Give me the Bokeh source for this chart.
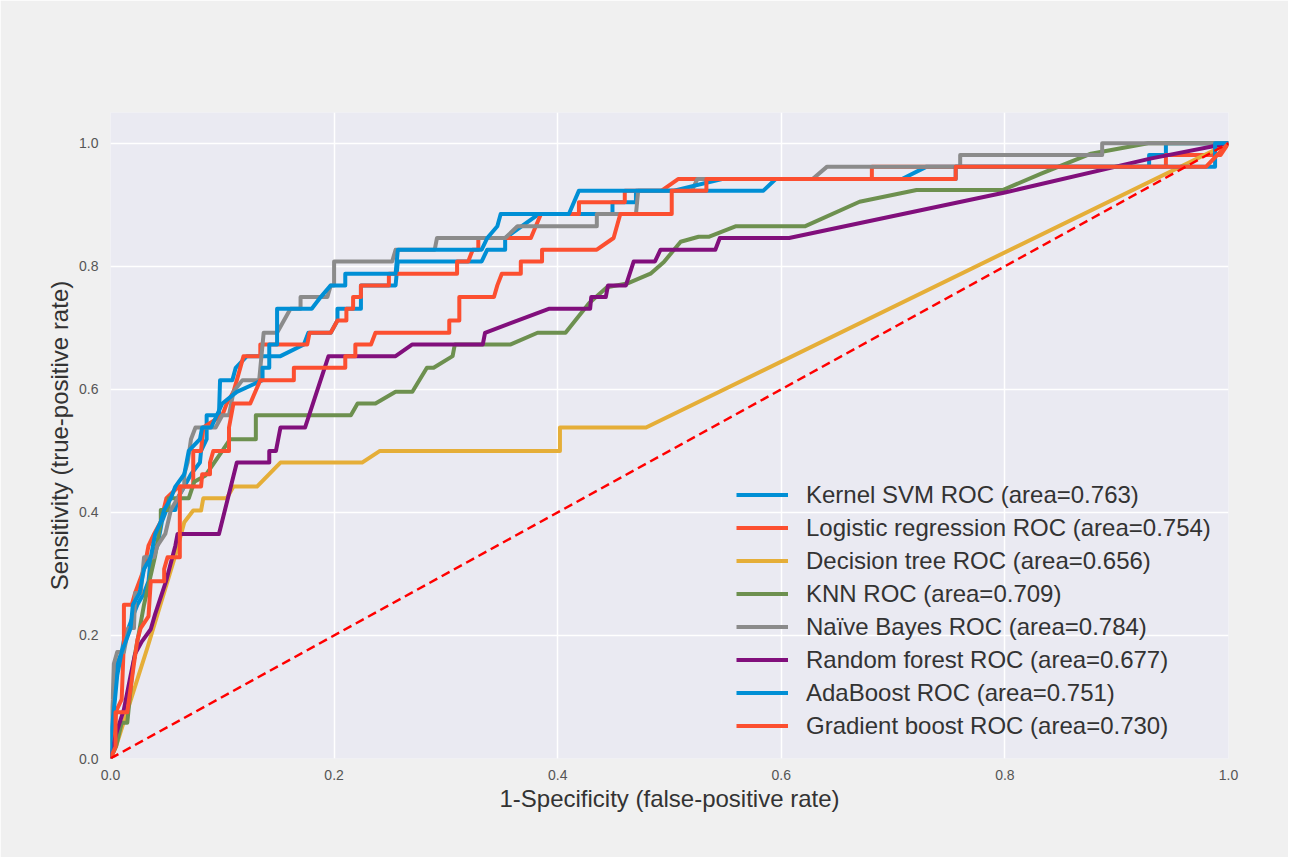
from bokeh.plotting import figure
from bokeh.models import Range1d, FixedTicker, PrintfTickFormatter, Legend, LegendItem, ColumnDataSource
from bokeh.embed import file_html
from bokeh.resources import INLINE

# ---- data ----
labels = [
    "Kernel SVM ROC (area=0.763)",
    "Logistic regression ROC (area=0.754)",
    "Decision tree ROC (area=0.656)",
    "KNN ROC (area=0.709)",
    "Naïve Bayes ROC (area=0.784)",
    "Random forest ROC (area=0.677)",
    "AdaBoost ROC (area=0.751)",
    "Gradient boost ROC (area=0.730)",
]
colors = ["#008fd5", "#fc4f30", "#e5ae38", "#6d904f", "#8b8b8b", "#810f7c", "#008fd5", "#fc4f30"]

svm_fpr = [0, 0, 0.002, 0.004, 0.006, 0.010, 0.012, 0.016, 0.020, 0.024, 0.030, 0.034, 0.036, 0.042, 0.046,
           0.050, 0.058, 0.060, 0.066, 0.072, 0.080, 0.081, 0.086, 0.086, 0.097, 0.098, 0.109, 0.112, 0.122,
           0.152, 0.173, 0.177, 0.197, 0.203, 0.203, 0.224, 0.224, 0.255, 0.257, 0.332, 0.337, 0.353, 0.353,
           0.383, 0.449, 0.449, 0.470, 0.470, 0.584, 0.595, 0.708, 0.730, 0.929, 0.929, 0.944, 0.944, 1.0]
svm_tpr = [0, 0.019, 0.058, 0.115, 0.154, 0.173, 0.192, 0.212, 0.231, 0.250, 0.269, 0.288, 0.327, 0.346, 0.385,
           0.404, 0.404, 0.423, 0.442, 0.462, 0.481, 0.500, 0.519, 0.558, 0.558, 0.615, 0.615, 0.635, 0.654,
           0.654, 0.673, 0.692, 0.692, 0.712, 0.731, 0.731, 0.769, 0.769, 0.808, 0.808, 0.827, 0.827, 0.846,
           0.885, 0.885, 0.904, 0.904, 0.923, 0.923, 0.942, 0.942, 0.962, 0.962, 0.981, 0.981, 1.0, 1.0]

lr_fpr = [0, 0.003, 0.005, 0.010, 0.012, 0.012, 0.019, 0.022, 0.030, 0.034, 0.039, 0.045, 0.050, 0.061, 0.074,
          0.074, 0.081, 0.083, 0.100, 0.104, 0.110, 0.113, 0.119, 0.134, 0.134, 0.176, 0.178, 0.197, 0.203,
          0.211, 0.211, 0.217, 0.217, 0.224, 0.224, 0.249, 0.249, 0.310, 0.310, 0.320, 0.324, 0.329, 0.329,
          0.376, 0.385, 0.419, 0.419, 0.460, 0.460, 0.493, 0.508, 0.681, 0.681, 0.944, 0.944, 0.993, 1.0]
lr_tpr = [0, 0.019, 0.077, 0.096, 0.192, 0.250, 0.250, 0.269, 0.308, 0.346, 0.365, 0.385, 0.423, 0.442, 0.442,
          0.500, 0.500, 0.538, 0.558, 0.577, 0.596, 0.615, 0.654, 0.654, 0.673, 0.673, 0.692, 0.692, 0.712,
          0.712, 0.731, 0.731, 0.750, 0.750, 0.769, 0.769, 0.788, 0.788, 0.808, 0.808, 0.827, 0.827, 0.846,
          0.846, 0.885, 0.885, 0.904, 0.904, 0.923, 0.923, 0.942, 0.942, 0.962, 0.962, 0.981, 0.981, 1.0]

dt_fpr = [0, 0.005, 0.033, 0.058, 0.066, 0.074, 0.081, 0.083, 0.104, 0.110, 0.131, 0.152, 0.225, 0.241,
          0.402, 0.402, 0.479, 1.0]
dt_tpr = [0, 0.02, 0.18, 0.33, 0.384, 0.403, 0.403, 0.423, 0.423, 0.442, 0.442, 0.481, 0.481, 0.500,
          0.500, 0.538, 0.538, 1.0]

knn_fpr = [0, 0.005, 0.010, 0.015, 0.020, 0.030, 0.040, 0.045, 0.045, 0.052, 0.052, 0.060, 0.070, 0.075,
           0.085, 0.100, 0.107, 0.130, 0.130, 0.215, 0.221, 0.237, 0.255, 0.270, 0.283, 0.289, 0.306, 0.308,
           0.358, 0.382, 0.407, 0.428, 0.444, 0.462, 0.483, 0.495, 0.510, 0.526, 0.535, 0.559, 0.621, 0.670,
           0.721, 0.798, 0.833, 0.877, 0.928, 1.0]
knn_tpr = [0, 0.02, 0.058, 0.058, 0.15, 0.25, 0.33, 0.385, 0.404, 0.404, 0.423, 0.423, 0.423, 0.45,
           0.46, 0.5, 0.519, 0.519, 0.558, 0.558, 0.577, 0.577, 0.596, 0.596, 0.635, 0.635, 0.654, 0.673,
           0.673, 0.692, 0.692, 0.740, 0.766, 0.772, 0.788, 0.807, 0.840, 0.848, 0.848, 0.865, 0.865, 0.905,
           0.924, 0.924, 0.951, 0.983, 1.0, 1.0]

nb_fpr = [0, 0, 0.002, 0.003, 0.006, 0.012, 0.016, 0.021, 0.022, 0.027, 0.030, 0.039, 0.042, 0.049, 0.054,
          0.060, 0.066, 0.066, 0.069, 0.072, 0.076, 0.094, 0.100, 0.106, 0.110, 0.118, 0.133, 0.137, 0.149,
          0.161, 0.170, 0.170, 0.194, 0.197, 0.200, 0.200, 0.252, 0.255, 0.290, 0.292, 0.353, 0.364, 0.435,
          0.435, 0.470, 0.472, 0.520, 0.525, 0.628, 0.641, 0.760, 0.760, 0.887, 0.887, 1.0]
nb_tpr = [0, 0.058, 0.096, 0.154, 0.173, 0.173, 0.212, 0.212, 0.269, 0.269, 0.327, 0.327, 0.346, 0.365, 0.404,
          0.423, 0.442, 0.462, 0.481, 0.519, 0.538, 0.538, 0.558, 0.558, 0.596, 0.615, 0.615, 0.692, 0.692,
          0.731, 0.731, 0.750, 0.750, 0.769, 0.769, 0.808, 0.808, 0.827, 0.827, 0.846, 0.846, 0.865, 0.865,
          0.885, 0.885, 0.923, 0.923, 0.942, 0.942, 0.962, 0.962, 0.981, 0.981, 1.0, 1.0]

rf_fpr = [0, 0.005, 0.012, 0.018, 0.022, 0.028, 0.036, 0.040, 0.050, 0.058, 0.060, 0.097, 0.113, 0.142, 0.142,
          0.148, 0.152, 0.174, 0.195, 0.255, 0.270, 0.333, 0.335, 0.392, 0.429, 0.430, 0.443, 0.445, 0.461,
          0.468, 0.487, 0.492, 0.541, 0.545, 0.607, 0.800, 0.930, 1.0]
rf_tpr = [0, 0.04, 0.08, 0.135, 0.17, 0.19, 0.21, 0.235, 0.29, 0.346, 0.365, 0.365, 0.481, 0.481, 0.500,
          0.500, 0.538, 0.538, 0.654, 0.654, 0.673, 0.673, 0.692, 0.731, 0.731, 0.750, 0.750, 0.769, 0.769,
          0.808, 0.808, 0.827, 0.827, 0.846, 0.846, 0.920, 0.975, 1.0]

ada_fpr = [0, 0, 0.004, 0.006, 0.010, 0.014, 0.018, 0.020, 0.026, 0.030, 0.036, 0.040, 0.045, 0.048, 0.054,
           0.058, 0.066, 0.070, 0.080, 0.082, 0.090, 0.100, 0.113, 0.136, 0.136, 0.142, 0.142, 0.149, 0.149,
           0.180, 0.188, 0.197, 0.210, 0.210, 0.255, 0.257, 0.332, 0.337, 0.346, 0.349, 0.410, 0.419, 0.504,
           0.547, 0.756, 0.756, 0.988, 0.988, 1.0]
ada_tpr = [0, 0.029, 0.096, 0.135, 0.173, 0.192, 0.212, 0.250, 0.269, 0.308, 0.327, 0.365, 0.385, 0.404, 0.423,
           0.442, 0.462, 0.500, 0.519, 0.538, 0.538, 0.577, 0.596, 0.615, 0.635, 0.635, 0.673, 0.673, 0.731,
           0.731, 0.750, 0.769, 0.769, 0.788, 0.788, 0.827, 0.827, 0.846, 0.865, 0.885, 0.885, 0.923, 0.923,
           0.942, 0.942, 0.962, 0.962, 1.0, 1.0]

gb_fpr = [0, 0.0045, 0.0045, 0.015, 0.021, 0.024, 0.027, 0.034, 0.036, 0.048, 0.048, 0.051, 0.062, 0.062,
          0.081, 0.082, 0.089, 0.089, 0.092, 0.106, 0.106, 0.110, 0.125, 0.134, 0.164, 0.164, 0.210, 0.210,
          0.219, 0.219, 0.233, 0.237, 0.303, 0.303, 0.312, 0.312, 0.343, 0.346, 0.350, 0.367, 0.367, 0.386,
          0.386, 0.435, 0.450, 0.456, 0.502, 0.502, 0.533, 0.533, 0.756, 0.756, 0.980, 0.990, 1.0]
gb_tpr = [0, 0.019, 0.075, 0.075, 0.154, 0.192, 0.212, 0.231, 0.288, 0.288, 0.308, 0.327, 0.327, 0.442,
          0.442, 0.462, 0.462, 0.481, 0.500, 0.500, 0.538, 0.577, 0.577, 0.615, 0.615, 0.635, 0.635, 0.654,
          0.654, 0.673, 0.673, 0.692, 0.692, 0.712, 0.712, 0.750, 0.750, 0.769, 0.788, 0.788, 0.808, 0.808,
          0.827, 0.827, 0.846, 0.885, 0.885, 0.923, 0.923, 0.942, 0.942, 0.962, 0.962, 0.981, 1.0]

chance_x = [0, 1]
chance_y = [0, 1]

ticks = [0.0, 0.2, 0.4, 0.6, 0.8, 1.0]

curves = [(svm_fpr, svm_tpr), (lr_fpr, lr_tpr), (dt_fpr, dt_tpr), (knn_fpr, knn_tpr),
          (nb_fpr, nb_tpr), (rf_fpr, rf_tpr), (ada_fpr, ada_tpr), (gb_fpr, gb_tpr)]

# ---- figure ----
FONT = "Liberation Sans"
p = figure(width=1288, height=857, output_backend="svg", toolbar_location=None,
           x_range=Range1d(0, 1.0), y_range=Range1d(0, 1.05),
           min_border_left=110, min_border_right=60, min_border_top=112, min_border_bottom=99)
p.background_fill_color = "#eaeaf2"
p.border_fill_color = "#f0f0f0"
p.outline_line_color = None

for ax in (p.xaxis[0], p.yaxis[0]):
    ax.ticker = FixedTicker(ticks=ticks)
    ax.formatter = PrintfTickFormatter(format="%.1f")
    ax.axis_line_color = None
    ax.major_tick_line_color = None
    ax.minor_tick_line_color = None
    ax.major_label_text_font = FONT
    ax.major_label_text_font_size = "14px"
    ax.major_label_text_color = "#555555"
    ax.axis_label_text_font = FONT
    ax.axis_label_text_font_size = "24px"
    ax.axis_label_text_font_style = "normal"
    ax.axis_label_text_color = "#333333"

p.xaxis.axis_label = "1-Specificity (false-positive rate)"
p.yaxis.axis_label = "Sensitivity (true-positive rate)"
p.xaxis.major_label_standoff = 5
p.xaxis.axis_label_standoff = 2
p.yaxis.major_label_standoff = 6
p.yaxis.axis_label_standoff = 3

p.xgrid.ticker = FixedTicker(ticks=ticks)
p.ygrid.ticker = FixedTicker(ticks=ticks)
for g in (p.xgrid[0], p.ygrid[0]):
    g.grid_line_color = "white"
    g.grid_line_width = 1.5

items = []
for (fx, ty), lab, col in zip(curves, labels, colors):
    n = min(len(fx), len(ty))
    src = ColumnDataSource(data=dict(x=fx[:n], y=ty[:n]))
    r = p.line("x", "y", source=src, line_color=col, line_width=4, line_join="round")
    items.append(LegendItem(label=lab, renderers=[r]))

p.line(chance_x, chance_y, line_color="#ff0000", line_width=2.5, line_dash="9 5")

legend = Legend(items=items, location=(626, 16))
legend.background_fill_alpha = 0
legend.border_line_alpha = 0
legend.padding = 0
legend.margin = 0
legend.spacing = 0
legend.glyph_width = 52
legend.glyph_height = 33
legend.label_height = 33
legend.label_standoff = 18
legend.label_text_font = FONT
legend.label_text_font_size = "24px"
legend.label_text_color = "#333333"
p.add_layout(legend)

open("out.html", "w").write(file_html(p, INLINE))
